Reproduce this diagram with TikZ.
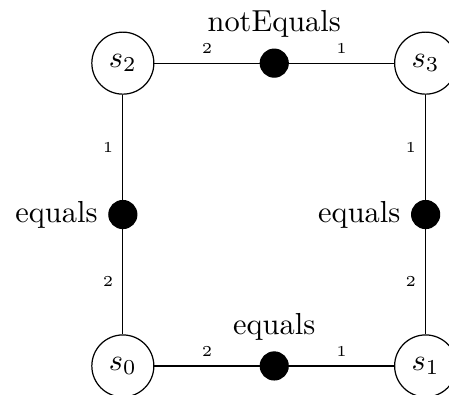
\documentclass[tikz,border=0pt]{standalone}

\begin{document}
\begin{tikzpicture}[
  var/.style={draw, circle, minimum size=20.4pt, inner sep=0pt},
  factor/.style={draw, circle, fill=black, minimum size=9.2pt, inner sep=0pt},
  port/.style={font=\tiny, inner sep=3pt}
]
  \useasboundingbox (-1.42,-0.335) rectangle (3.77,4.23);
  \clip (-1.42,-0.335) rectangle (3.77,4.23);

  \node[var] (s0) at (0,0) {$s_0$};
  \node[var] (s1) at (3.5,0) {$s_1$};
  \node[var] (s2) at (0,3.5) {$s_2$};
  \node[var] (s3) at (3.5,3.5) {$s_3$};

  \node[factor, label=above:{notEquals}] (f23) at (1.75,3.5) {};
  \node[factor, label=left:{equals}] (f02) at (0,1.75) {};
  \node[factor, label=left:{equals}] (f13) at (3.5,1.75) {};
  \node[factor, label=above:{equals}] (f01) at (1.75,0) {};

  \draw (s2) -- node[port, above]{2} (f23);
  \draw (f23) -- node[port, above]{1} (s3);
  \draw (s2) -- node[port, left]{1} (f02);
  \draw (f02) -- node[port, left]{2} (s0);
  \draw (s3) -- node[port, left]{1} (f13);
  \draw (f13) -- node[port, left]{2} (s1);
  \draw (s0) -- node[port, above]{2} (f01);
  \draw (f01) -- node[port, above]{1} (s1);
\end{tikzpicture}
\end{document}
